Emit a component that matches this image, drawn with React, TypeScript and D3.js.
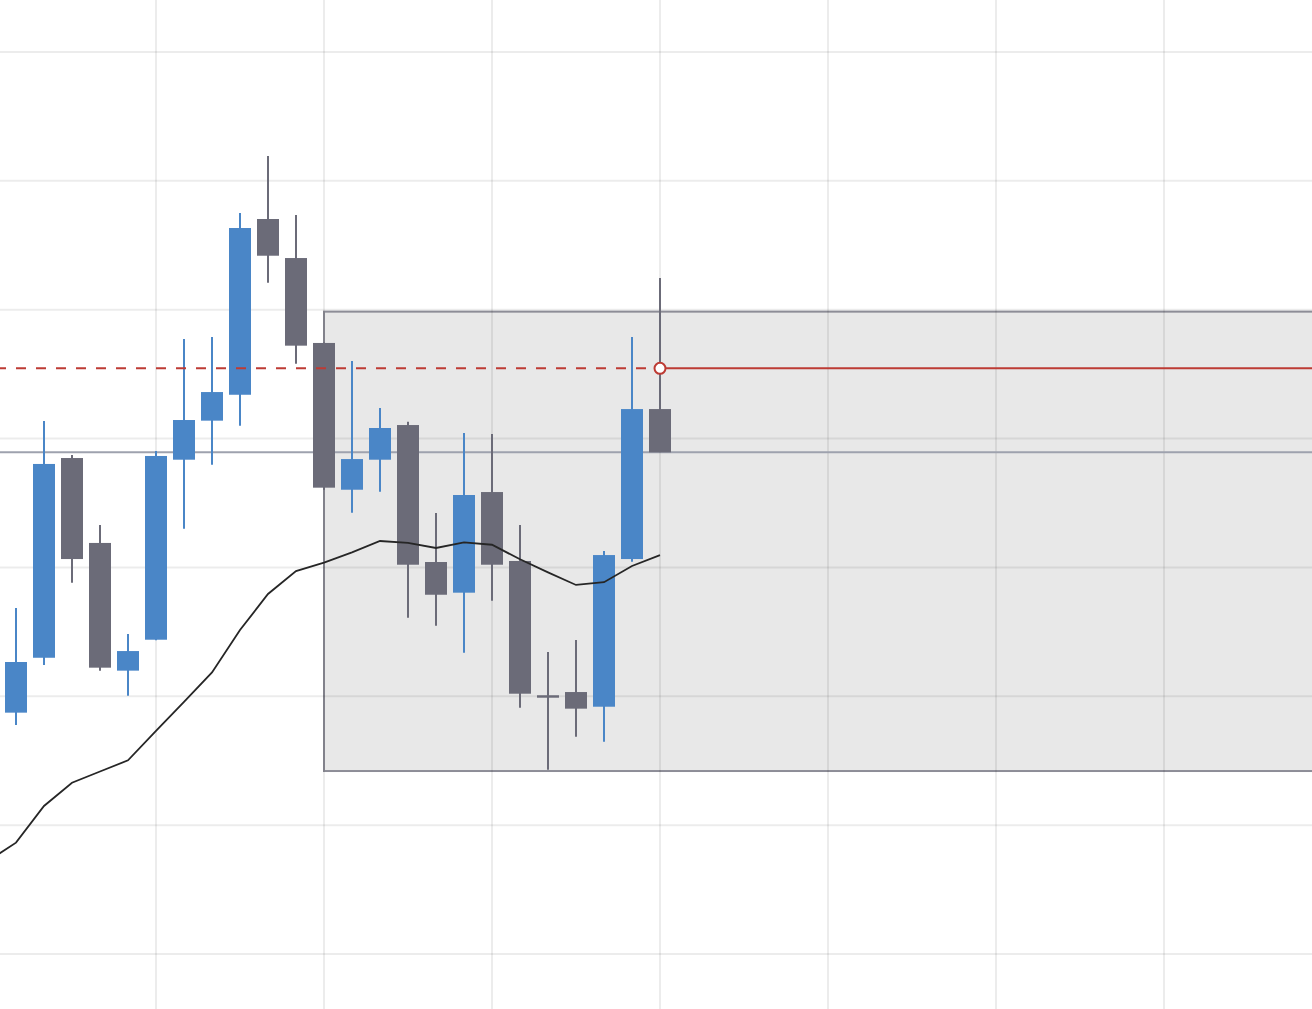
import * as d3 from "d3";

// candle values, one entry per bar (bar 0 is the left-most visible one)
const opens = [118.73, 122.99, 138.49, 131.9, 121.99, 124.39, 138.36, 141.39, 143.4, 157.04, 154.01, 147.42,
    136.03, 138.36, 141.05, 130.42, 128.04, 135.85, 130.5, 120.08, 120.33, 119.19, 130.65, 142.29];
const highs = [126.85, 141.36, 138.73, 133.29, 124.83, 139.04, 147.73, 147.88, 157.51, 161.93, 157.35, 147.45,
    146.02, 142.37, 141.31, 134.22, 140.43, 140.35, 133.29, 123.44, 124.37, 131.27, 147.88, 152.46];
const lows = [117.77, 122.43, 128.81, 121.99, 120.05, 124.35, 133.01, 137.97, 141.0, 152.1, 145.81, 136.01,
    134.25, 135.88, 126.1, 125.48, 123.38, 127.42, 119.11, 114.3, 116.86, 116.48, 130.44, 138.93];
const closes = [122.66, 138.03, 130.65, 122.22, 123.51, 138.65, 141.44, 143.61, 156.34, 154.19, 147.21, 136.19,
    138.41, 140.82, 130.21, 127.88, 135.62, 130.21, 120.2, 119.89, 119.04, 130.96, 142.29, 138.93];

// moving average, starting one bar before the first visible candle
const maStart = -1;
const maValues = [107.22, 108.64, 111.49, 113.29, 114.16, 115.03, 117.31, 119.56, 121.85, 125.14, 127.94, 129.72,
    130.37, 131.17, 132.05, 131.9, 131.51, 131.95, 131.76, 130.63, 129.62, 128.64, 128.85, 130.11, 130.96];

// shaded zone and level markers
const zoneFrom = 11;
const zoneTo = 48;
const zoneTop = 149.85;
const zoneBottom = 114.2;
const levelBar = 23;
const levelPrice = 145.45;

const width = 1312;
const height = 1009;

type Bar = { i: number; o: number; h: number; l: number; c: number };

export default function App() {
    const bars: Bar[] = opens.map((o, i) => ({ i, o, h: highs[i], l: lows[i], c: closes[i] }));
    const lastClose = closes[closes.length - 1];

    const xScale = d3.scaleLinear().domain([0, 23]).range([16, 660]);
    const yScale = d3.scaleLinear().domain([100, 170]).range([954, 52]);

    const bodyWidth = 22;
    const up = "#4a86c7";
    const down = "#6b6b78";

    const xGrid = d3.range(5, 47, 6);
    const yGrid = yScale.ticks(7);

    const maLine = d3.line<number>()
        .x((_, k) => xScale(maStart + k))
        .y(d => yScale(d));

    return (
        <svg width={width} height={height} style={{ position: "absolute", left: 0, top: 0, background: "#fff" }}>
            {/* zone */}
            <rect
                x={xScale(zoneFrom)}
                y={yScale(zoneTop)}
                width={xScale(zoneTo) - xScale(zoneFrom)}
                height={yScale(zoneBottom) - yScale(zoneTop)}
                fill="#e8e8e8"
                stroke="#8d8d97"
                strokeWidth={2}
            />

            {/* grid */}
            <g stroke="rgba(0,0,0,0.075)" strokeWidth={2}>
                {xGrid.map(i => (
                    <line key={"x" + i} x1={xScale(i)} x2={xScale(i)} y1={0} y2={height} />
                ))}
                {yGrid.map(v => (
                    <line key={"y" + v} x1={0} x2={width} y1={yScale(v)} y2={yScale(v)} />
                ))}
            </g>

            {/* last price line */}
            <line x1={0} x2={width} y1={yScale(lastClose)} y2={yScale(lastClose)} stroke="#9ea2ae" strokeWidth={2} />

            {/* candles */}
            <g>
                {bars.map(b => {
                    const color = b.c >= b.o ? up : down;
                    const x = xScale(b.i);
                    const top = yScale(Math.max(b.o, b.c));
                    const bottom = yScale(Math.min(b.o, b.c));
                    return (
                        <g key={b.i}>
                            <line x1={x} x2={x} y1={yScale(b.h)} y2={yScale(b.l)} stroke={color} strokeWidth={2} />
                            <rect x={x - bodyWidth / 2} y={top} width={bodyWidth}
                                  height={Math.max(bottom - top, 2)} fill={color} />
                        </g>
                    );
                })}
            </g>

            {/* moving average */}
            <path d={maLine(maValues) || ""} fill="none" stroke="#262626" strokeWidth={1.8} />

            {/* level */}
            <line x1={0} x2={xScale(levelBar)} y1={yScale(levelPrice)} y2={yScale(levelPrice)}
                  stroke="#bd3b34" strokeWidth={2} strokeDasharray="10 10" strokeDashoffset={4} />
            <line x1={xScale(levelBar)} x2={width} y1={yScale(levelPrice)} y2={yScale(levelPrice)}
                  stroke="#bd3b34" strokeWidth={2} />
            <circle cx={xScale(levelBar)} cy={yScale(levelPrice)} r={5.5} fill="#fff" stroke="#bd3b34" strokeWidth={2} />
        </svg>
    );
}
